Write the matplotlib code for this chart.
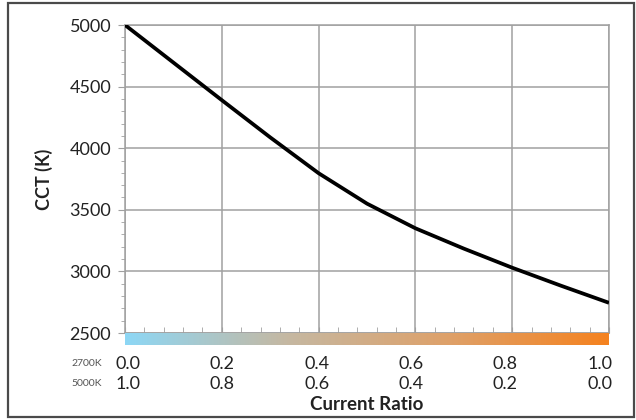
import numpy as np
import matplotlib.pyplot as plt
from matplotlib.colors import LinearSegmentedColormap
from matplotlib.patches import Rectangle

# current ratio of the 2700K channel (5000K channel is 1 - ratio)
ratio = [0.0, 0.1, 0.2, 0.3, 0.4, 0.5, 0.6, 0.7, 0.8, 0.9, 1.0]
cct = [5000, 4695, 4390, 4088, 3797, 3550, 3350, 3185, 3030, 2885, 2745]

ratio_ticks = [0.0, 0.2, 0.4, 0.6, 0.8, 1.0]
labels_2700 = ["0.0", "0.2", "0.4", "0.6", "0.8", "1.0"]
labels_5000 = ["1.0", "0.8", "0.6", "0.4", "0.2", "0.0"]
cct_ticks = [2500, 3000, 3500, 4000, 4500, 5000]

plt.rcParams['font.family'] = ['Lato', 'DejaVu Sans']
grid_col = '#a0a0a0'
text_col = '#222222'

fig = plt.figure(figsize=(6.36, 4.20), dpi=100)
fig.patches.append(Rectangle((8 / 636, 3 / 420), 626 / 636, 414 / 420,
                             transform=fig.transFigure, fill=False,
                             edgecolor='#4a4a4a', linewidth=1.6))

ax = fig.add_axes([125 / 636, 1 - 333 / 420, 484 / 636, 308 / 420])
ax.plot(ratio, cct, color='black', linewidth=2.7, solid_capstyle='butt',
        solid_joinstyle='round', zorder=3)
ax.set_xlim(0, 1)
ax.set_ylim(2500, 5000)
ax.set_yticks(cct_ticks)
ax.set_yticks(np.arange(2500, 5001, 100), minor=True)
ax.set_xticks(ratio_ticks)
ax.set_xticks(np.arange(0, 1.001, 0.04), minor=True)
ax.grid(True, which='major', color=grid_col, linewidth=1.1)
for s in ax.spines.values():
    s.set_color(grid_col)
    s.set_linewidth(1.1)
ax.tick_params(axis='y', which='both', direction='out', color=grid_col,
               labelsize=13, labelcolor=text_col, pad=5)
ax.tick_params(axis='y', which='minor', length=3)
ax.tick_params(axis='y', which='major', length=5)
ax.tick_params(axis='x', which='both', direction='in', color=grid_col,
               labelbottom=False, length=4)
ax.set_ylabel('CCT (K)', fontsize=13, fontweight='bold', color=text_col, labelpad=12)

# colour strip under the x axis
cmap = LinearSegmentedColormap.from_list(
    'cct', ['#8dd7f5', '#c5b8a2', '#dea16a', '#f5821f'])
cax = fig.add_axes([125 / 636, 1 - 345 / 420, 484 / 636, 12 / 420])
cax.imshow(np.linspace(0, 1, 256)[None, :], aspect='auto', cmap=cmap,
           extent=[0, 1, 0, 1])
cax.set_axis_off()

# two rows of ratio labels, spread slightly inside the tick span
for x, a, b in zip(ratio_ticks, labels_2700, labels_5000):
    xf = 0.006 + 0.975 * x
    ax.text(xf, -31 / 308, a, transform=ax.transAxes, ha='center', va='center',
            fontsize=13, color=text_col)
    ax.text(xf, -51 / 308, b, transform=ax.transAxes, ha='center', va='center',
            fontsize=13, color=text_col)
fig.text(87 / 636, 1 - 364 / 420, '2700K', ha='center', va='center',
         fontsize=7.5, color='#555555')
fig.text(87 / 636, 1 - 384 / 420, '5000K', ha='center', va='center',
         fontsize=7.5, color='#555555')
fig.text(367 / 636, 1 - 405 / 420, 'Current Ratio', ha='center', va='center',
         fontsize=13.5, fontweight='bold', color=text_col)

fig.savefig('out.png', dpi=100)
